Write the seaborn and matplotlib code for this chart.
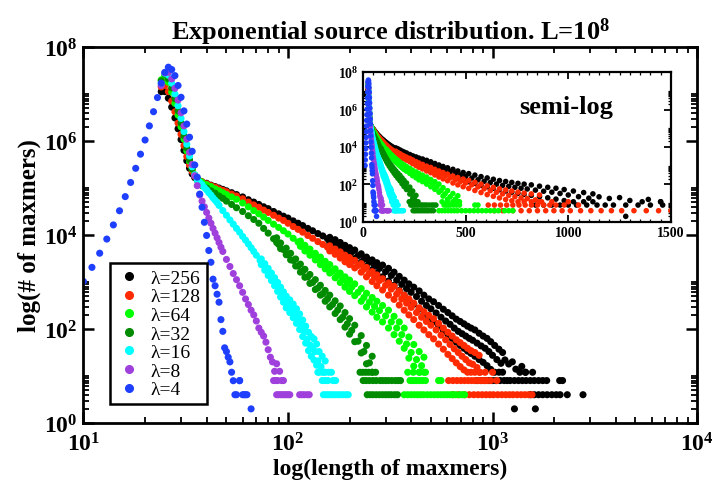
import matplotlib
matplotlib.use('Agg')
import matplotlib.pyplot as plt
from matplotlib.lines import Line2D
from matplotlib.ticker import FixedLocator, FuncFormatter, LogLocator, MultipleLocator, NullFormatter
import numpy as np
import pandas as pd
import seaborn as sns

#%% data

lambdas = [256, 128, 64, 32, 16, 8, 4]
colors = ['#000000', '#ff2a00', '#00ff00', '#008b00', '#00ffff', '#a040dc', '#1f3fff']

# rising side of the lambda=4 curve (lengths 10..23)
len_rise_4 = [10, 11, 12, 13, 14, 15, 16, 17, 18, 19, 20, 21, 22, 23]
cnt_rise_4 = [1024, 2048, 4096, 8192, 16384, 32768, 65536, 131072, 262144,
              524288, 1048576, 2097152, 4194304, 8388608]

# peak region, lengths 24..37, values are log10(count)
len_peak = [24, 25, 26, 27, 28, 29, 30, 31, 32, 33, 34, 35, 36, 37]
logc_peak_256 = [7.05, 7.05, 6.91, 6.72, 6.49, 6.26, 6.03, 5.80, 5.58, 5.42, 5.30, 5.22, 5.17, 5.14]
logc_peak_128 = [7.15, 7.18, 7.05, 6.85, 6.62, 6.38, 6.14, 5.90, 5.67, 5.49, 5.35, 5.25, 5.19, 5.15]
logc_peak_64 = [7.30, 7.38, 7.25, 7.04, 6.80, 6.55, 6.30, 6.04, 5.79, 5.57, 5.40, 5.28, 5.20, 5.15]
logc_peak_32 = [7.28, 7.42, 7.32, 7.13, 6.90, 6.64, 6.38, 6.11, 5.85, 5.60, 5.41, 5.27, 5.17, 5.10]
logc_peak_16 = [7.22, 7.44, 7.40, 7.23, 7.00, 6.75, 6.48, 6.20, 5.93, 5.68, 5.45, 5.28, 5.17, 5.12]
logc_peak_8 = [7.18, 7.45, 7.46, 7.32, 7.12, 6.87, 6.60, 6.32, 6.04, 5.76, 5.50, 5.26, 5.05, 4.85]
logc_peak_4 = [7.23, 7.46, 7.57, 7.52, 7.39, 7.18, 6.93, 6.64, 6.36, 6.08, 5.78, 5.49, 5.23, 4.87]

# tails of the long curves (black, red, lime, dark green share these lengths)
len_tail = [38, 40, 42, 44, 46, 48, 50, 53, 56, 60, 64, 68, 72, 76, 80, 85, 90, 95, 100,
            106, 112, 118, 125, 132, 140, 148, 156, 165, 175, 185, 195, 205, 220, 235, 250,
            265, 280, 300, 320, 340, 360, 380, 400, 425, 450, 475, 500, 530, 560, 590, 620,
            650, 680, 710, 740, 770, 800, 840, 880, 920, 960, 1000, 1050, 1100]
logc_tail_256 = [5.13, 5.10, 5.06, 5.03, 5.00, 4.97, 4.94, 4.90, 4.86, 4.81, 4.75, 4.70, 4.65,
                 4.60, 4.56, 4.50, 4.45, 4.40, 4.36, 4.30, 4.25, 4.20, 4.14, 4.09, 4.03, 3.98,
                 3.92, 3.87, 3.81, 3.75, 3.69, 3.64, 3.56, 3.48, 3.42, 3.35, 3.29, 3.22, 3.14,
                 3.04, 2.95, 2.86, 2.78, 2.69, 2.59, 2.50, 2.43, 2.34, 2.25, 2.17, 2.10, 2.02,
                 1.95, 1.90, 1.85, 1.80, 1.76, 1.70, 1.64, 1.59, 1.52, 1.44, 1.35, 1.27]
logc_tail_128 = [5.13, 5.09, 5.05, 5.02, 4.98, 4.95, 4.92, 4.87, 4.83, 4.77, 4.70, 4.64, 4.59,
                 4.53, 4.48, 4.42, 4.36, 4.31, 4.25, 4.18, 4.12, 4.06, 3.99, 3.93, 3.86, 3.80,
                 3.74, 3.68, 3.61, 3.54, 3.48, 3.43, 3.35, 3.27, 3.18, 3.10, 3.03, 2.93, 2.85,
                 2.74, 2.64, 2.55, 2.46, 2.35, 2.25, 2.16, 2.08, 1.98, 1.87, 1.77, 1.67, 1.58,
                 1.50, 1.42, 1.35, 1.28, 1.25, 1.18]
logc_tail_64 = [5.12, 5.07, 5.03, 4.98, 4.94, 4.90, 4.86, 4.81, 4.76, 4.68, 4.60, 4.52, 4.45,
                4.38, 4.31, 4.23, 4.16, 4.09, 4.02, 3.93, 3.85, 3.76, 3.67, 3.58, 3.49, 3.40,
                3.32, 3.23, 3.14, 3.05, 2.97, 2.89, 2.78, 2.67, 2.57, 2.48, 2.39, 2.28, 2.15,
                2.02, 1.88, 1.68, 1.50, 1.35, 1.22]
logc_tail_32 = [5.05, 5.00, 4.94, 4.89, 4.83, 4.78, 4.72, 4.65, 4.58, 4.50, 4.41, 4.33, 4.25,
                4.14, 4.04, 3.92, 3.80, 3.69, 3.58, 3.46, 3.34, 3.23, 3.11, 2.99, 2.87, 2.75,
                2.64, 2.52, 2.40, 2.25, 2.11, 1.97, 1.74, 1.52, 1.28]

# upper / lower edges of the noisy part of the bands (log10 count), read at the
# lengths in between the band centre points
len_edge_a = [160, 170, 180, 190, 200, 212, 228, 242, 258, 272, 290, 310, 330, 350, 370, 390,
              412, 438, 462, 488, 515, 545, 575, 605, 635, 665, 695, 725, 755, 785, 820, 860,
              900, 940, 980, 1025, 1075, 1120]
len_edge_b = [115, 121, 128, 136, 144, 152, 160, 170, 180, 190, 200, 212, 228, 242, 258, 272,
              290, 310, 330, 350, 370, 390, 412, 438, 462]
len_edge_c = [88, 92, 98, 103, 109, 115, 121, 128, 136, 144, 152, 160, 170, 180, 190, 200,
              212, 228, 242, 258]
len_edge_d = [74, 77, 80, 83, 86, 89, 92, 95, 98, 102, 106, 110, 114, 118, 122, 126, 130, 134,
              138, 142, 147, 152]
logc_hi_256 = [3.95, 3.90, 3.84, 3.78, 3.73, 3.68, 3.60, 3.53, 3.47, 3.41, 3.36, 3.29, 3.21,
               3.12, 3.04, 2.96, 2.89, 2.81, 2.72, 2.64, 2.58, 2.50, 2.42, 2.35, 2.28, 2.21,
               2.16, 2.11, 2.06, 2.02, 1.98, 1.91, 1.85, 1.80, 1.73, 1.65, 1.57, 1.50]
logc_lo_256 = [3.84, 3.78, 3.71, 3.64, 3.57, 3.50, 3.42, 3.33, 3.26, 3.18, 3.11, 3.02, 2.93,
               2.82, 2.72, 2.62, 2.53, 2.43, 2.32, 2.23, 2.15, 2.06, 1.96, 1.88, 1.80, 1.72,
               1.65, 1.59, 1.53, 1.48, 1.42, 1.35, 1.29, 1.22, 1.14, 1.08, 1.08, 1.08]
logc_hi_128 = [3.77, 3.70, 3.64, 3.57, 3.52, 3.46, 3.39, 3.31, 3.22, 3.15, 3.07, 2.98, 2.91,
               2.81, 2.72, 2.64, 2.55, 2.45, 2.37, 2.29, 2.22, 2.12, 2.02, 1.93, 1.85, 1.77,
               1.71, 1.65, 1.59, 1.54, 1.50, 1.44]
logc_lo_128 = [3.66, 3.59, 3.51, 3.43, 3.37, 3.30, 3.21, 3.11, 3.01, 2.92, 2.83, 2.72, 2.63,
               2.51, 2.40, 2.30, 2.20, 2.08, 1.98, 1.88, 1.79, 1.68, 1.57, 1.46, 1.37, 1.28,
               1.20, 1.13, 1.08, 1.08, 1.08, 1.08]
logc_hi_64 = [3.87, 3.78, 3.70, 3.61, 3.53, 3.44, 3.37, 3.28, 3.19, 3.11, 3.04, 2.96, 2.86,
              2.76, 2.67, 2.59, 2.50, 2.40, 2.27, 2.15, 2.02, 1.83, 1.67, 1.52, 1.40]
logc_lo_64 = [3.76, 3.66, 3.57, 3.47, 3.37, 3.28, 3.19, 3.09, 2.99, 2.89, 2.80, 2.71, 2.59,
              2.47, 2.36, 2.25, 2.15, 2.02, 1.88, 1.74, 1.59, 1.38, 1.21, 1.08, 1.08]
logc_hi_32 = [3.94, 3.83, 3.72, 3.61, 3.49, 3.38, 3.27, 3.16, 3.05, 2.93, 2.82, 2.72, 2.60,
              2.49, 2.35, 2.22, 2.08, 1.86, 1.65, 1.42]
logc_lo_32 = [3.84, 3.71, 3.58, 3.47, 3.34, 3.21, 3.10, 2.97, 2.84, 2.72, 2.59, 2.47, 2.33,
              2.20, 2.04, 1.89, 1.73, 1.49, 1.26, 1.08]
logc_hi_16 = [3.49, 3.39, 3.29, 3.19, 3.09, 2.99, 2.89, 2.79, 2.70, 2.62, 2.53, 2.43, 2.32,
              2.19, 2.06, 1.93, 1.84, 1.79, 1.68, 1.52, 1.42, 1.32]
logc_lo_16 = [3.37, 3.25, 3.14, 3.03, 2.92, 2.80, 2.68, 2.57, 2.45, 2.35, 2.24, 2.12, 1.99,
              1.84, 1.70, 1.54, 1.42, 1.34, 1.23, 1.08, 1.08, 1.08]

# tails of the short curves
len_tail_16 = [38, 39, 40, 41, 42, 43, 44, 45, 46, 48, 50, 52, 54, 56, 58, 60, 62, 64, 66, 68,
               70, 73, 76, 79, 82, 85, 88, 91, 94, 97, 100, 104, 108, 112, 116, 120, 124, 128,
               132, 136, 140, 145, 150]
logc_tail_16 = [5.07, 5.01, 4.96, 4.90, 4.85, 4.79, 4.74, 4.69, 4.63, 4.52, 4.42, 4.32, 4.23,
                4.14, 4.06, 3.97, 3.89, 3.81, 3.73, 3.65, 3.57, 3.46, 3.35, 3.25, 3.15, 3.05,
                2.94, 2.83, 2.73, 2.62, 2.53, 2.43, 2.33, 2.22, 2.08, 1.95, 1.78, 1.66, 1.60,
                1.52, 1.32, 1.20, 1.08]
len_tail_8 = [38, 39, 40, 41, 42, 43, 44, 45, 46, 47, 48, 50, 52, 54, 56, 58, 60, 62, 64, 66,
              68, 70, 72, 74, 76, 78, 80, 82, 84, 86, 88, 91]
logc_tail_8 = [4.72, 4.60, 4.48, 4.36, 4.25, 4.14, 4.04, 3.94, 3.84, 3.74, 3.65, 3.48, 3.33,
               3.18, 3.05, 2.92, 2.78, 2.64, 2.52, 2.40, 2.30, 2.17, 2.02, 1.93, 1.85, 1.72,
               1.56, 1.40, 1.30, 1.10, 1.26, 1.10]
len_tail_4 = [38, 39, 40, 41, 42, 43, 44, 45, 46, 47, 48, 49, 50, 51, 52, 53, 54, 58]
logc_tail_4 = [4.59, 4.27, 3.99, 3.67, 3.42, 3.06, 2.92, 2.74, 2.57, 2.20, 1.95, 1.60, 1.52,
               1.40, 1.30, 1.08, 0.90, 0.90]

# scattered black points at the end of the lambda=256 band
len_extra_256 = [1150, 1200, 1250, 1300, 1390, 1450]
cnt_extra_256 = [22, 18, 20, 14, 16, 12]

# horizontal rows of small counts (lengths only, count given by the name)
floor12 = {256: [1360, 1450, 1570], 128: [870, 920, 1000],
           64: [385, 410, 440, 470], 32: [225, 232, 240, 248, 258, 268],
           16: [140, 158, 163], 8: [], 4: []}
floor8 = {256: [840, 880, 920, 960, 1000, 1040, 1090, 1140, 1180, 1220, 1280, 1340, 1400,
                1460, 1530, 1600, 1680, 1760, 1840, 2130, 2200],
          128: [610, 640, 670, 700, 730, 760, 790, 820, 850, 880, 910, 940, 980, 1050],
          64: [395, 405, 415, 425, 440, 455, 470, 545, 560],
          32: [233, 241, 250, 260, 270, 282, 290, 300, 310, 322, 335, 345, 355],
          16: [147, 152, 157, 166, 171], 8: [85, 87, 89, 93, 95], 4: [58]}
floor4 = {256: [1530, 1600, 1680, 1760, 1850, 1950, 2050, 2140, 2320, 2770],
          128: [640, 680, 730, 770, 810, 850, 890, 930, 970, 1010, 1060, 1110, 1160, 1210,
                1260, 1320, 1380, 1440, 1500, 1560],
          64: [370, 385, 400, 415, 430, 445, 460, 480, 500, 520, 540, 560, 580, 600, 620,
               640, 660, 690, 710, 730],
          32: [244, 252, 260, 270, 280, 290, 300, 310, 320, 332, 343],
          16: [149, 153, 157, 161, 165, 170, 175, 180, 186, 192, 197],
          8: [88, 90, 92, 94, 96, 98, 100, 102, 114, 117, 120, 124, 127],
          4: [55, 56, 60, 61, 62, 63]}
floor2 = {256: [1280, 1620], 128: [], 64: [], 32: [], 16: [], 8: [], 4: [66]}

#%% build one long table, drawn in legend order so lambda=4 ends on top

peaks = {256: logc_peak_256, 128: logc_peak_128, 64: logc_peak_64, 32: logc_peak_32,
         16: logc_peak_16, 8: logc_peak_8, 4: logc_peak_4}
tails = {256: (len_tail, logc_tail_256), 128: (len_tail, logc_tail_128),
         64: (len_tail, logc_tail_64), 32: (len_tail, logc_tail_32),
         16: (len_tail_16, logc_tail_16), 8: (len_tail_8, logc_tail_8),
         4: (len_tail_4, logc_tail_4)}
edges = {256: (len_edge_a, logc_hi_256, logc_lo_256),
         128: (len_edge_a[:32], logc_hi_128, logc_lo_128),
         64: (len_edge_b, logc_hi_64, logc_lo_64),
         32: (len_edge_c, logc_hi_32, logc_lo_32),
         16: (len_edge_d, logc_hi_16, logc_lo_16)}

frames = []
for lam in lambdas:
    L = list(len_peak)
    C = [10 ** v for v in peaks[lam]]
    tl, tc = tails[lam]
    L += tl[:len(tc)]
    C += [10 ** v for v in tc]
    if lam in edges:
        el, hi, lo = edges[lam]
        L += list(el) + list(el)
        C += [10 ** v for v in hi] + [10 ** v for v in lo]
    for rows, c in ((floor12, 12), (floor8, 8), (floor4, 4), (floor2, 2)):
        L += rows[lam]
        C += [c] * len(rows[lam])
    if lam == 4:
        L = len_rise_4 + L
        C = cnt_rise_4 + C
    if lam == 256:
        L += len_extra_256
        C += cnt_extra_256
    frames.append(pd.DataFrame({'length': L, 'count': C, 'lam': lam}))
df = pd.concat(frames, ignore_index=True)

#%% style

sns.set_theme(style='ticks')
plt.rcParams.update({
    'font.family': ['Liberation Serif', 'DejaVu Serif'],
    'font.weight': 'bold',
    'mathtext.fontset': 'custom',
    'mathtext.rm': 'Liberation Serif:bold',
    'mathtext.bf': 'Liberation Serif:bold',
    'mathtext.it': 'Liberation Serif:bold:italic',
    'xtick.direction': 'in', 'ytick.direction': 'in',
    'xtick.top': True, 'ytick.right': True,
    'axes.edgecolor': 'black', 'axes.linewidth': 2.0,
    'xtick.color': 'black', 'ytick.color': 'black',
    'text.color': 'black', 'axes.labelcolor': 'black', 'axes.titlecolor': 'black',
})

palette = dict(zip(lambdas, colors))
pow_fmt = FuncFormatter(lambda v, p: r'$\mathbf{10^{%d}}$' % round(np.log10(v)))
ymin_locs = [m * 10.0 ** e for e in (0, 2, 4, 6) for m in range(2, 11)]

fig = plt.figure(figsize=(7.16, 4.89), dpi=100)
ax = fig.add_axes([0.1166, 0.1329, 0.8569, 0.769])

sns.scatterplot(data=df, x='length', y='count', hue='lam', palette=palette,
                hue_order=lambdas, s=26, linewidth=0, legend=False, ax=ax)
ax.set_xscale('log')
ax.set_yscale('log')
ax.set_xlim(10, 1e4)
ax.set_ylim(1, 1e8)
ax.xaxis.set_major_locator(FixedLocator([10, 100, 1000, 10000]))
ax.xaxis.set_minor_locator(LogLocator(base=10, subs=np.arange(2, 10), numticks=20))
ax.yaxis.set_major_locator(FixedLocator([1, 1e2, 1e4, 1e6, 1e8]))
ax.yaxis.set_minor_locator(FixedLocator(ymin_locs))
ax.xaxis.set_major_formatter(pow_fmt)
ax.yaxis.set_major_formatter(pow_fmt)
ax.xaxis.set_minor_formatter(NullFormatter())
ax.yaxis.set_minor_formatter(NullFormatter())
ax.tick_params(which='major', length=8, width=1.8, labelsize=17)
ax.tick_params(axis='x', which='major', pad=7)
ax.tick_params(axis='y', which='major', pad=4)
ax.tick_params(which='minor', length=4, width=1.3)
ax.set_xlabel('log(length of maxmers)', fontsize=17, fontweight='bold')
ax.xaxis.set_label_coords(0.5, -0.092)
ax.set_ylabel('log(# of maxmers)', fontsize=18, fontweight='bold', labelpad=2)
ax.set_title(r'Exponential source distribution. L=$\mathbf{10^{8}}$',
             fontsize=19, fontweight='bold', pad=5)

handles = [Line2D([], [], marker='o', ls='none', color=c, markersize=5.5)
           for c in colors]
labels = ['\u03bb=%d' % lam for lam in lambdas]
leg = ax.legend(handles, labels, loc='lower left', bbox_to_anchor=(0.043, 0.05),
                borderaxespad=0, fancybox=False, framealpha=1, edgecolor='black',
                prop={'family': 'Liberation Serif', 'weight': 'normal', 'size': 14},
                labelspacing=0.05, handletextpad=0.4, handlelength=1.4, borderpad=0.3)
leg.get_frame().set_linewidth(1.8)

# inset: same data, linear length axis
axi = fig.add_axes([0.507, 0.544, 0.430, 0.3067])
sns.scatterplot(data=df, x='length', y='count', hue='lam', palette=palette,
                hue_order=lambdas, s=16, linewidth=0, legend=False, ax=axi)
axi.set_yscale('log')
axi.set_xlim(0, 1500)
axi.set_ylim(1, 1e8)
axi.xaxis.set_major_locator(FixedLocator([0, 500, 1000, 1500]))
axi.xaxis.set_minor_locator(MultipleLocator(50))
axi.yaxis.set_major_locator(FixedLocator([1, 1e2, 1e4, 1e6, 1e8]))
axi.yaxis.set_minor_locator(FixedLocator(ymin_locs))
axi.yaxis.set_major_formatter(pow_fmt)
axi.yaxis.set_minor_formatter(NullFormatter())
axi.xaxis.set_major_formatter(FuncFormatter(lambda v, p: '%d' % v))
for s in axi.spines.values():
    s.set_linewidth(1.6)
axi.tick_params(which='major', length=5, width=1.3, labelsize=10, pad=3)
axi.tick_params(which='minor', length=2.5, width=0.9)
axi.set_xlabel('')
axi.set_ylabel('')
axi.text(0.66, 0.77, 'semi-log', transform=axi.transAxes, ha='center', va='center',
         fontsize=19, fontweight='bold')

fig.savefig('out.png', dpi=100)
